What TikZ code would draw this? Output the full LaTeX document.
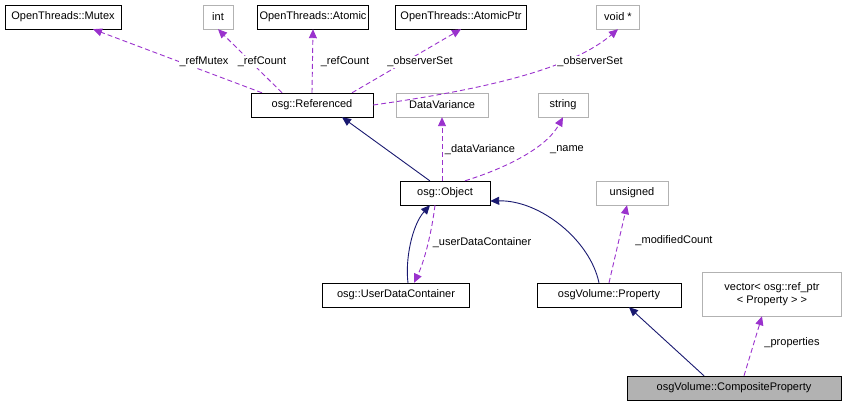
\documentclass[tikz,border=0pt]{standalone}
\usepackage{fontspec}
\setmainfont{Liberation Sans}
\usetikzlibrary{arrows.meta}
\definecolor{inh}{HTML}{191970}
\definecolor{use}{HTML}{9A32CD}
\begin{document}
\begin{tikzpicture}[x=1pt,y=-1pt,
  box/.style={draw=black,fill=white,inner sep=0pt,minimum height=24pt,font=\fontsize{11}{13}\selectfont,align=center},
  gbox/.style={box,draw=black!30},
  inhe/.style={draw=inh,line width=0.9pt,-{Triangle[length=9pt,width=8pt]}},
  usee/.style={draw=use,line width=0.9pt,dashed,dash pattern=on 5pt off 3pt,-{Triangle[length=9pt,width=8pt]}},
  lab/.style={font=\fontsize{11}{13}\selectfont,fill=white,inner sep=1pt}]
\useasboundingbox (0,0) rectangle (847,409);
\node[box,minimum width=116pt] (mutex) at (63,17) {OpenThreads::Mutex};
\node[gbox,minimum width=30pt] (int) at (218,17) {int};
\node[box,minimum width=111pt] (atomic) at (313,17) {OpenThreads::Atomic};
\node[box,minimum width=131pt] (aptr) at (461,17) {OpenThreads::AtomicPtr};
\node[gbox,minimum width=43pt] (void) at (618,17) {void *};
\node[box,minimum width=122pt] (ref) at (312,105) {osg::Referenced};
\node[gbox,minimum width=92pt] (dv) at (442,105) {DataVariance};
\node[gbox,minimum width=50pt] (str) at (563,105) {string};
\node[box,minimum width=90pt] (obj) at (445,193) {osg::Object};
\node[gbox,minimum width=72pt] (uns) at (632,193) {unsigned};
\node[box,minimum width=147pt] (udc) at (396,295) {osg::UserDataContainer};
\node[box,minimum width=144pt] (prop) at (609,295) {osgVolume::Property};
\node[gbox,minimum width=139pt,minimum height=44pt] (vec) at (772,294) {vector< osg::ref\_ptr\\< Property > >};
\node[box,fill=black!30,minimum width=214pt] (comp) at (734,388) {osgVolume::CompositeProperty};
% inheritance
\draw[inhe] (obj.north west) ++(30,0) -- ([xshift=30pt]ref.south);
\draw[inhe] ([xshift=-10pt]prop.north) .. controls (590,240) and (540,200) .. ([yshift=-8pt]obj.east);
\draw[inhe] ([xshift=-30pt]comp.north) -- ([xshift=20pt]prop.south);
\draw[inhe] ([xshift=12pt]udc.north) .. controls (405,260) and (412,225) .. ([xshift=-15pt]obj.south);
% usage
\draw[usee] ([xshift=-10pt]obj.south) .. controls (432,230) and (425,260) .. ([xshift=18pt]udc.north);
\node[lab] at (482,243) {\_userDataContainer};
\draw[usee] ([xshift=-50pt]ref.north) -- ([xshift=30pt]mutex.south);
\node[lab] at (204,62) {\_refMutex};
\draw[usee] ([xshift=-30pt]ref.north) -- (int.south);
\node[lab] at (262,62) {\_refCount};
\draw[usee] (ref.north) -- (atomic.south);
\node[lab] at (345,62) {\_refCount};
\draw[usee] ([xshift=40pt]ref.north) -- (aptr.south);
\node[lab] at (420,62) {\_observerSet};
\draw[usee] (ref.east) .. controls (480,90) and (570,70) .. (void.south);
\node[lab] at (590,62) {\_observerSet};
\draw[usee] ([xshift=-3pt]obj.north) -- (dv.south);
\node[lab] at (480,150) {\_dataVariance};
\draw[usee] ([xshift=20pt]obj.north) .. controls (500,170) and (545,150) .. (str.south);
\node[lab] at (567,150) {\_name};
\draw[usee] (prop.north) -- ([xshift=-5pt]uns.south);
\node[lab] at (674,241) {\_modifiedCount};
\draw[usee] ([xshift=10pt]comp.north) -- ([xshift=-10pt]vec.south);
\node[lab] at (792,343) {\_properties};
\end{tikzpicture}
\end{document}
